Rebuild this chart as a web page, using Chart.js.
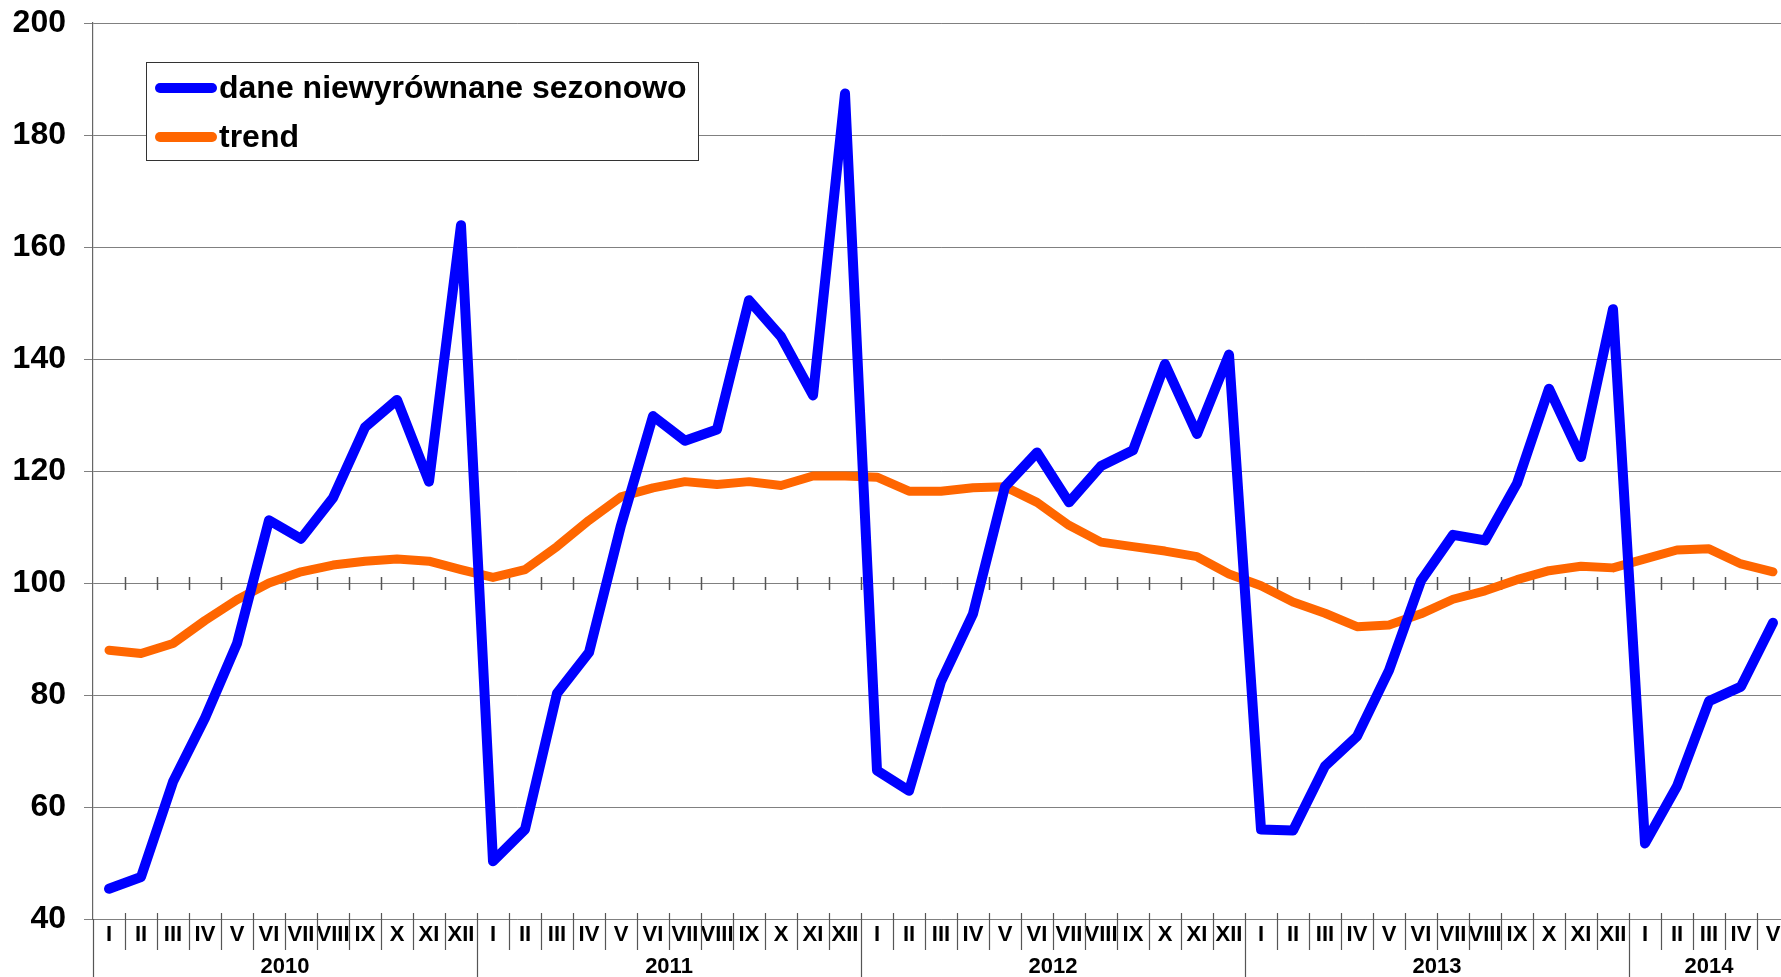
<!DOCTYPE html>
<html>
<head>
<meta charset="utf-8">
<script src="https://cdn.jsdelivr.net/npm/chart.js@4.4.0/dist/chart.umd.min.js"></script>
<style>
  html, body { margin: 0; padding: 0; background: #fff; overflow: hidden; }
  #wrap { width: 1790px; height: 977px; }
</style>
</head>
<body>
<div id="wrap"><canvas id="chart" width="1790" height="977"></canvas></div>
<script>
// month numerals and years on the category axis
const romans = ["I", "II", "III", "IV", "V", "VI", "VII", "VIII", "IX", "X", "XI", "XII"];
const years = ["2010", "2011", "2012", "2013", "2014"];
const monthsPerYear = [12, 12, 12, 12, 5];

// series values
const unadjusted = [
  45.4, 47.5, 64.5, 75.9, 89.2, 111.2, 107.9, 115.2, 127.8, 132.7, 118.1, 163.9,
  50.3, 56.0, 80.3, 87.6, 110.3, 129.8, 125.4, 127.4, 150.5, 144.0, 133.5, 187.4,
  66.5, 62.9, 82.4, 94.5, 117.2, 123.3, 114.4, 120.9, 123.7, 139.1, 126.6, 140.8,
  56.0, 55.8, 67.3, 72.6, 84.4, 100.4, 108.6, 107.6, 117.8, 134.7, 122.5, 148.9,
  53.5, 63.7, 78.9, 81.5, 92.9
];
const trend = [
  88.0, 87.4, 89.2, 93.3, 97.0, 100.0, 102.0, 103.2, 103.9, 104.3, 103.9, 102.4,
  101.0, 102.4, 106.5, 111.2, 115.4, 117.0, 118.1, 117.6, 118.1, 117.4, 119.1, 119.1,
  118.9, 116.4, 116.4, 117.0, 117.2, 114.4, 110.3, 107.3, 106.5, 105.7, 104.7, 101.6,
  99.5, 96.6, 94.6, 92.2, 92.5, 94.5, 97.1, 98.6, 100.6, 102.2, 103.0, 102.7,
  104.3, 105.9, 106.1, 103.4, 102.0
];
const yTicks = [40, 60, 80, 100, 120, 140, 160, 180, 200];

const labels = [];
monthsPerYear.forEach(n => { for (let i = 0; i < n; i++) labels.push(romans[i]); });

const FONT = "Arial, 'Liberation Sans', sans-serif";

// extra drawing: ticks on the 100 line, label dividers, year labels, legend box
const decor = {
  id: "decor",
  beforeDatasetsDraw(chart) {
    const ctx = chart.ctx, x = chart.scales.x, y = chart.scales.y;
    const w = (x.right - x.left) / labels.length;
    const y100 = y.getPixelForValue(100);
    ctx.save();
    ctx.strokeStyle = "#555";
    ctx.lineWidth = 1.5;
    ctx.beginPath();
    for (let i = 1; i < labels.length; i++) {
      const px = Math.round(x.left + i * w) + 0.5;
      ctx.moveTo(px, y100 - 6);
      ctx.lineTo(px, y100 + 7);
    }
    ctx.stroke();
    ctx.restore();
  },
  afterDraw(chart) {
    const ctx = chart.ctx, x = chart.scales.x;
    const bottom = chart.chartArea.bottom;
    const w = (x.right - x.left) / labels.length;
    ctx.save();
    ctx.strokeStyle = "#555";
    ctx.lineWidth = 1.2;
    ctx.beginPath();
    // y axis line runs down through the label band
    ctx.moveTo(x.left + 0.5, bottom);
    ctx.lineTo(x.left + 0.5, chart.height);
    let start = 0;
    const yearStarts = [];
    monthsPerYear.forEach(n => { yearStarts.push(start); start += n; });
    for (let i = 1; i <= labels.length; i++) {
      const px = Math.round(x.left + i * w) + 0.5;
      const isYear = yearStarts.includes(i);
      ctx.moveTo(px, bottom - 6);
      ctx.lineTo(px, isYear ? chart.height : bottom + 31);
    }
    ctx.stroke();

    // year labels centred under their months
    ctx.fillStyle = "#000";
    ctx.font = "bold 22px " + FONT;
    ctx.textAlign = "center";
    ctx.textBaseline = "middle";
    years.forEach((yr, k) => {
      const a = yearStarts[k], b = a + monthsPerYear[k] - 1;
      const cx = (x.getPixelForValue(a) + x.getPixelForValue(b)) / 2;
      ctx.fillText(yr, cx, bottom + 48);
    });

    // legend
    const bx = 146.5, by = 62.5, bw = 552, bh = 98;
    ctx.fillStyle = "#fff";
    ctx.fillRect(bx, by, bw, bh);
    ctx.strokeStyle = "#333";
    ctx.lineWidth = 1;
    ctx.strokeRect(bx, by, bw, bh);
    const rows = [88, 137];
    chart.data.datasets.forEach((ds, i) => {
      ctx.strokeStyle = ds.borderColor;
      ctx.lineWidth = 10;
      ctx.lineCap = "round";
      ctx.beginPath();
      ctx.moveTo(160, rows[i]);
      ctx.lineTo(212, rows[i]);
      ctx.stroke();
      ctx.fillStyle = "#000";
      ctx.font = "bold 32px " + FONT;
      ctx.textAlign = "left";
      ctx.fillText(ds.label, 219, rows[i] + 1);
    });
    ctx.restore();
  }
};

new Chart(document.getElementById("chart"), {
  type: "line",
  data: {
    labels,
    datasets: [
      {
        label: "dane niewyrównane sezonowo",
        data: unadjusted,
        borderColor: "#0000ff",
        borderWidth: 10,
        borderJoinStyle: "round",
        borderCapStyle: "round",
        pointRadius: 0,
        tension: 0
      },
      {
        label: "trend",
        data: trend,
        borderColor: "#ff6600",
        borderWidth: 9,
        borderJoinStyle: "round",
        borderCapStyle: "round",
        pointRadius: 0,
        tension: 0
      }
    ]
  },
  options: {
    responsive: false,
    animation: false,
    devicePixelRatio: 1,
    layout: { padding: { top: 23, right: 1, left: 0, bottom: 0 } },
    plugins: { legend: { display: false }, tooltip: { enabled: false } },
    scales: {
      x: {
        offset: true,
        grid: { display: false, drawTicks: false },
        border: { display: false },
        ticks: {
          autoSkip: false,
          maxRotation: 0,
          padding: 3,
          color: "#000",
          font: { family: FONT, size: 22, weight: "bold" }
        },
        afterFit(s) { s.height = 58; s.paddingLeft = 0; s.paddingRight = 0; }
      },
      y: {
        min: 40,
        max: 200,
        afterBuildTicks(s) { s.ticks = yTicks.map(v => ({ value: v })); },
        grid: { color: "#808080", lineWidth: 1, tickLength: 9 },
        border: { display: true, color: "#666", width: 1.2 },
        ticks: {
          padding: 18,
          color: "#000",
          font: { family: FONT, size: 32, weight: "bold" }
        },
        afterFit(s) { s.width = 93; s.paddingTop = 0; s.paddingBottom = 0; }
      }
    }
  },
  plugins: [decor]
});
</script>
</body>
</html>
